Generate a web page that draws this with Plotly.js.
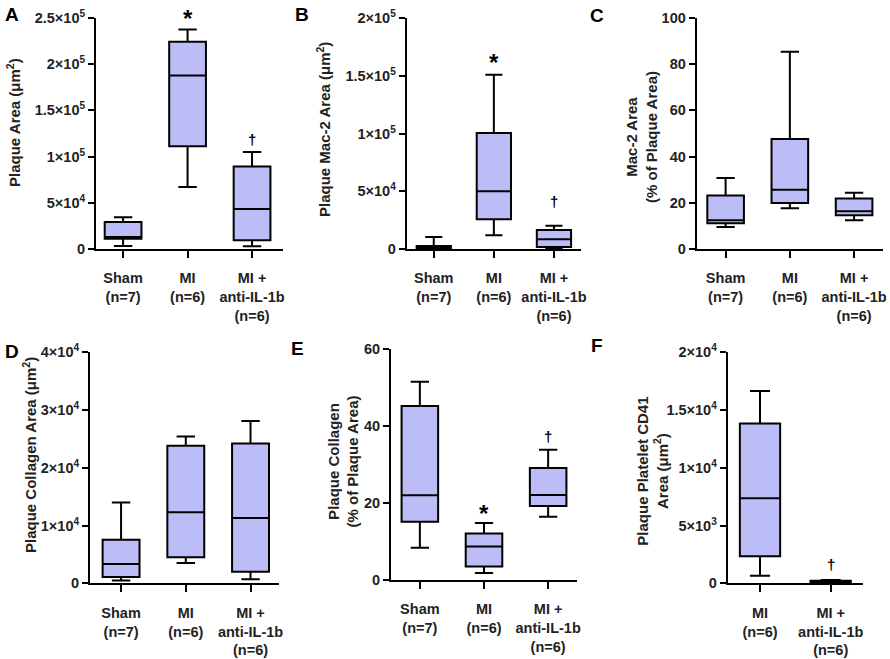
<!DOCTYPE html>
<html><head><meta charset="utf-8">
<script src="https://cdn.plot.ly/plotly-3.0.1.min.js"></script>
<style>body{margin:0;background:#fff}#chart{width:890px;height:659px}</style>
</head><body><div id="chart"></div>
<script>
// ---- data ----
const groups3 = ["Sham<br>(n=7)", "MI<br>(n=6)", "MI +<br>anti-IL-1b<br>(n=6)"];
const groups2 = ["MI<br>(n=6)", "MI +<br>anti-IL-1b<br>(n=6)"];

// Panel A: Plaque Area (µm²)
const A_min = [3250, 67100, 2900];
const A_q1  = [11200, 111200, 9400];
const A_med = [13000, 187700, 43300];
const A_q3  = [29200, 224200, 89200];
const A_max = [34300, 237500, 105000];

// Panel B: Plaque Mac-2 Area (µm²)
const B_min = [0, 11800, 900];
const B_q1  = [200, 25700, 1700];
const B_med = [1200, 49900, 8400];
const B_q3  = [2500, 100400, 16500];
const B_max = [10400, 150900, 20200];

// Panel C: Mac-2 Area (% of plaque area)
const C_min = [9.5, 17.6, 12.4];
const C_q1  = [11.1, 19.9, 14.6];
const C_med = [12.4, 25.7, 16.3];
const C_q3  = [23.2, 47.6, 21.9];
const C_max = [30.7, 85.4, 24.4];

// Panel D: Plaque Collagen Area (µm²)
const D_min = [500, 3500, 700];
const D_q1  = [1100, 4500, 2000];
const D_med = [3350, 12300, 11300];
const D_q3  = [7560, 23800, 24200];
const D_max = [13970, 25400, 28100];

// Panel E: Plaque Collagen (% of plaque area)
const E_min = [8.4, 1.8, 16.4];
const E_q1  = [15.1, 3.5, 19.2];
const E_med = [22.0, 8.7, 22.1];
const E_q3  = [45.2, 12.1, 29.1];
const E_max = [51.5, 14.8, 33.8];

// Panel F: Plaque Platelet CD41 Area (µm²)
const F_min = [660, 30];
const F_q1  = [2340, 60];
const F_med = [7360, 150];
const F_q3  = [13830, 230];
const F_max = [16650, 290];

// tick labels
const A_ticks = [0, 50000, 100000, 150000, 200000, 250000];
const A_text = ["0", "5×10<sup>4</sup>", "1×10<sup>5</sup>", "1.5×10<sup>5</sup>", "2×10<sup>5</sup>", "2.5×10<sup>5</sup>"];
const B_ticks = [0, 50000, 100000, 150000, 200000];
const B_text = ["0", "5×10<sup>4</sup>", "1×10<sup>5</sup>", "1.5×10<sup>5</sup>", "2×10<sup>5</sup>"];
const C_ticks = [0, 20, 40, 60, 80, 100];
const D_ticks = [0, 10000, 20000, 30000, 40000];
const D_text = ["0", "1×10<sup>4</sup>", "2×10<sup>4</sup>", "3×10<sup>4</sup>", "4×10<sup>4</sup>"];
const E_ticks = [0, 20, 40, 60];
const F_ticks = [0, 5000, 10000, 15000, 20000];
const F_text = ["0", "5×10<sup>3</sup>", "1×10<sup>4</sup>", "1.5×10<sup>4</sup>", "2×10<sup>4</sup>"];

// ---- drawing ----
const W = 890, H = 659;
const FONT = "Liberation Sans, Arial, sans-serif";
const FILL = "#bcbcf6";

function boxTrace(cats, mn, q1, md, q3, mx, i) {
  return {
    type: "box", x: cats, q1: q1, median: md, q3: q3,
    lowerfence: mn, upperfence: mx,
    xaxis: "x" + (i === 1 ? "" : i), yaxis: "y" + (i === 1 ? "" : i),
    fillcolor: FILL, line: {color: "#000", width: 2},
    width: 0.57, whiskerwidth: 0.5, boxpoints: false, showlegend: false,
    hoverinfo: "skip"
  };
}

const traces = [
  boxTrace(groups3, A_min, A_q1, A_med, A_q3, A_max, 1),
  boxTrace(groups3, B_min, B_q1, B_med, B_q3, B_max, 2),
  boxTrace(groups3, C_min, C_q1, C_med, C_q3, C_max, 3),
  boxTrace(groups3, D_min, D_q1, D_med, D_q3, D_max, 4),
  boxTrace(groups3, E_min, E_q1, E_med, E_q3, E_max, 5),
  boxTrace(groups2, F_min, F_q1, F_med, F_q3, F_max, 6)
];

// panel pixel frames: [left, right, top, bottom]
const frames = [
  [96, 283, 18, 249],
  [406.7, 581, 18, 249],
  [696.7, 883, 18, 249],
  [90, 279, 352.3, 583.3],
  [391, 577, 349, 580],
  [727.7, 863, 352.3, 583.3]
];
const yranges = [[0, 250000], [0, 200000], [0, 100], [0, 40000], [0, 60], [0, 20000]];
const xranges = [[-0.42, 2.48], [-0.45, 2.45], [-0.45, 2.45], [-0.48, 2.44], [-0.45, 2.45], [-0.457, 1.457]];
const ytv = [[A_ticks, A_text], [B_ticks, B_text], [C_ticks, C_ticks.map(String)], [D_ticks, D_text], [E_ticks, E_ticks.map(String)], [F_ticks, F_text]];
const xcats = [groups3, groups3, groups3, groups3, groups3, groups2];

const layout = {
  width: W, height: H, margin: {l: 0, r: 0, t: 0, b: 0},
  paper_bgcolor: "#fff", plot_bgcolor: "rgba(0,0,0,0)",
  font: {family: FONT, color: "#000", size: 14, weight: "bold"},
  showlegend: false, annotations: []
};

frames.forEach((f, k) => {
  const s = k === 0 ? "" : String(k + 1);
  layout["xaxis" + s] = {
    domain: [f[0] / W, f[1] / W], anchor: "y" + s,
    type: "category", categoryarray: xcats[k], categoryorder: "array",
    range: xranges[k], showline: true, linecolor: "#000", linewidth: 2,
    ticks: "outside", ticklen: 7, tickwidth: 2, tickcolor: "#000",
    ticklabelstandoff: 8,
    showgrid: false, zeroline: false, fixedrange: true,
    tickfont: {family: FONT, size: 14.5, color: "#222", weight: "bold"}
  };
  layout["yaxis" + s] = {
    domain: [1 - f[3] / H, 1 - f[2] / H], anchor: "x" + s,
    range: yranges[k], showline: true, linecolor: "#000", linewidth: 2,
    ticks: "outside", ticklen: 6, tickwidth: 2, tickcolor: "#000",
    tickmode: "array", tickvals: ytv[k][0], ticktext: ytv[k][1],
    showgrid: false, zeroline: false, fixedrange: true,
    tickfont: {family: FONT, size: 14.5, color: "#222", weight: "bold"}
  };
});

// y axis titles (rotated) as annotations at measured centres
const ytitles = [
  ["Plaque Area (μm<sup>2</sup>)", 13, 123],
  ["Plaque Mac-2 Area (μm<sup>2</sup>)", 323, 130],
  ["Mac-2 Area<br>(% of Plaque Area)", 641, 137],
  ["Plaque Collagen Area (μm<sup>2</sup>)", 29, 455],
  ["Plaque Collagen<br>(% of Plaque Area)", 342.5, 462],
  ["Plaque Platelet CD41<br>Area (μm<sup>2</sup>)", 653, 471.7]
];
ytitles.forEach(t => layout.annotations.push({
  text: t[0], xref: "paper", yref: "paper", x: t[1] / W, y: 1 - t[2] / H,
  xanchor: "center", yanchor: "middle", textangle: -90, showarrow: false,
  font: {family: FONT, size: 15, color: "#222", weight: "bold"}
}));

// panel letters
const letters = [["A", 12, 15], ["B", 302, 15], ["C", 597, 16], ["D", 12, 351], ["E", 297, 348], ["F", 597, 345]];
letters.forEach(l => layout.annotations.push({
  text: l[0], xref: "paper", yref: "paper", x: l[1] / W, y: 1 - l[2] / H,
  xanchor: "center", yanchor: "middle", showarrow: false,
  font: {family: FONT, size: 19, color: "#000", weight: "bold"}
}));

// significance marks: [panel index, category, y value, symbol, pixel shift]
const marks = [
  [1, groups3[1], 249999, "*", -1],
  [1, groups3[2], 118000, "†", 0],
  [2, groups3[1], 165000, "*", -4],
  [2, groups3[2], 41000, "†", 0],
  [5, groups3[1], 18.2, "*", -4],
  [5, groups3[2], 37.2, "†", 0],
  [6, groups2[1], 1590, "†", 0]
];
marks.forEach(m => {
  const s = m[0] === 1 ? "" : String(m[0]);
  const star = m[3] === "*";
  layout.annotations.push({
    text: m[3], xref: "x" + s, yref: "y" + s, x: m[1], y: m[2],
    xanchor: "center", yanchor: "middle", showarrow: false,
    yshift: m[4],
    font: {family: FONT, size: star ? 24 : 15, color: "#000", weight: "bold"}
  });
});

Plotly.newPlot("chart", traces, layout, {displayModeBar: false, staticPlot: true});
</script></body></html>
